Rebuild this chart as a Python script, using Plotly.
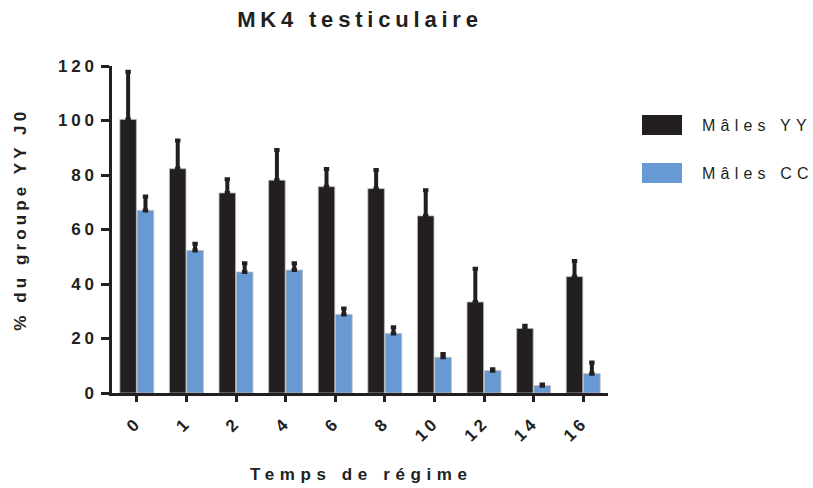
import plotly.graph_objects as go

# Sampling days and group means (% of YY group at day 0) with upper SEM
temps = ["0", "1", "2", "4", "6", "8", "10", "12", "14", "16"]
series_names = ["Mâles YY", "Mâles CC"]
yy_mean = [100.4, 82.3, 73.4, 78.1, 75.7, 75.0, 65.0, 33.4, 23.7, 42.7]
yy_sem = [17.5, 10.4, 5.0, 11.1, 6.5, 6.8, 9.4, 12.2, 1.0, 5.7]
cc_mean = [67.0, 52.3, 44.4, 45.1, 28.8, 21.8, 13.1, 8.2, 2.7, 7.1]
cc_sem = [5.1, 2.5, 3.2, 2.5, 2.2, 2.3, 1.2, 0.5, 0.4, 4.1]

DARK = "#231f20"
BLUE = "#679ad2"
FONT = "Liberation Sans, Arial, sans-serif"

# plot-area geometry in pixels (used for legend / title placement)
W, H = 813, 488
L, R, T, B = 112, 205, 66, 95
PW, PH = W - L - R, H - T - B


def px_x(x):
    return (x - L) / PW


def px_y(y):
    return (H - B - y) / PH


fig = go.Figure()
colors = [DARK, BLUE]
for name, mean, sem, col in zip(series_names, [yy_mean, cc_mean], [yy_sem, cc_sem], colors):
    fig.add_trace(go.Bar(
        x=temps, y=mean, name=name,
        marker=dict(color=col, line=dict(color="#b8b8b8", width=0.8)),
        error_y=dict(type="data", symmetric=False, array=sem,
                     arrayminus=[0] * len(sem),
                     color=DARK, thickness=4, width=2.7),
        showlegend=False,
    ))

fig.update_layout(
    width=W, height=H,
    margin=dict(l=L, r=R, t=T, b=B),
    plot_bgcolor="white", paper_bgcolor="white",
    barmode="group", bargap=0.3, bargroupgap=0.05,
    font=dict(family=FONT, color=DARK),
    title=dict(text="MK4 testiculaire", x=0.5, xref="paper",
               y=1 - 19 / H, yref="container", yanchor="middle", xanchor="center",
               font=dict(size=22, weight="bold", color=DARK)),
)

fig.update_xaxes(
    type="category", range=[-0.5, 9.5],
    showline=True, linecolor=DARK, linewidth=2.5,
    ticks="outside", ticklen=6, tickwidth=2.5, tickcolor=DARK,
    tickangle=-45, tickfont=dict(size=17, weight="bold", color=DARK),
    ticklabelstandoff=4,
    showgrid=False, zeroline=False,
)
fig.update_yaxes(
    range=[0, 120], dtick=20,
    showline=True, linecolor=DARK, linewidth=2.5,
    ticks="outside", ticklen=8, tickwidth=2.5, tickcolor=DARK,
    tickfont=dict(size=17, weight="bold", color=DARK),
    ticklabelstandoff=0,
    showgrid=False, zeroline=False,
)

# axis titles
fig.add_annotation(text="Temps de régime", xref="paper", yref="paper",
                   x=px_x(361), y=px_y(474), showarrow=False,
                   xanchor="center", yanchor="middle",
                   font=dict(size=17, weight="bold", color=DARK))
fig.add_annotation(text="% du groupe YY J0", xref="paper", yref="paper",
                   x=px_x(20), y=px_y(220), showarrow=False, textangle=-90,
                   xanchor="center", yanchor="middle",
                   font=dict(size=17, weight="bold", color=DARK))

# legend: large swatches with labels
legend_rows = [125, 173]
for name, col, yc in zip(series_names, colors, legend_rows):
    fig.add_shape(type="rect", xref="paper", yref="paper",
                  x0=px_x(642), x1=px_x(682), y0=px_y(yc + 10), y1=px_y(yc - 10),
                  fillcolor=col, line=dict(width=0))
    fig.add_annotation(text=name, xref="paper", yref="paper",
                       x=px_x(700), y=px_y(yc), showarrow=False,
                       xanchor="left", yanchor="middle", align="left",
                       font=dict(size=16, color=DARK))

# tracked lettering as in the original figure style
css = (
    ".gtitle{letter-spacing:4.8px}"
    " g.xtick text, g.ytick text{letter-spacing:3.8px}"
    " .annotation[data-index=\"0\"] .annotation-text{letter-spacing:5.6px}"
    " .annotation[data-index=\"1\"] .annotation-text{letter-spacing:4.1px}"
    " .annotation[data-index=\"2\"] .annotation-text,"
    " .annotation[data-index=\"3\"] .annotation-text{letter-spacing:5.2px}"
)
post = ("var s=document.createElement('style');s.textContent='" + css +
        "';document.head.appendChild(s);")
fig.write_html("out.html", post_script=post)
